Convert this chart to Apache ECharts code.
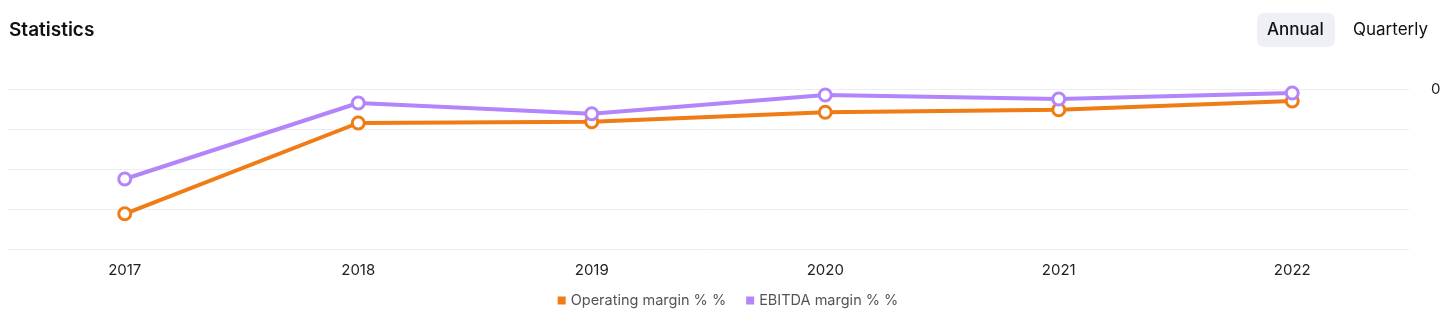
<!DOCTYPE html>
<html>
<head>
<meta charset="utf-8">
<script src="https://cdn.jsdelivr.net/npm/echarts@6/dist/echarts.min.js"></script>
<style>
  html, body { margin: 0; padding: 0; background: #fff; }
  #chart { width: 1456px; height: 326px; }
</style>
</head>
<body>
<div id="chart"></div>
<script>
// Yearly margins (%)
const years = ['2017', '2018', '2019', '2020', '2021', '2022'];
const operatingMargin = [-31.2, -8.5, -8.2, -5.8, -5.2, -3.0];
const ebitdaMargin = [-22.5, -3.5, -6.2, -1.5, -2.5, -1.0];
const yTickLabels = { 0: '0' };

const FONT = 'Inter, "Noto Sans", sans-serif';
const ORANGE = '#f07c15';
const PURPLE = '#b285fb';
const chart = echarts.init(document.getElementById('chart'));

const lineStyleFor = (color) => ({
  symbol: 'circle',
  symbolSize: 12,
  showAllSymbol: true,
  lineStyle: { width: 4, color },
  itemStyle: { color: '#ffffff', borderColor: color, borderWidth: 3 }
});

chart.setOption({
  animation: false,
  textStyle: { fontFamily: FONT },
  title: {
    text: 'Statistics',
    left: 9, top: 21, padding: 0,
    textStyle: { fontFamily: FONT, fontSize: 19, fontWeight: 600, color: '#111' }
  },
  graphic: [
    {
      type: 'rect', left: 1257, top: 13,
      shape: { width: 78, height: 34, r: 7 },
      style: { fill: '#eef0f6' }
    },
    {
      type: 'text', left: 1267, top: 21,
      style: { text: 'Annual', font: '500 17px ' + FONT, fill: '#111' }
    },
    {
      type: 'text', left: 1353, top: 21,
      style: { text: 'Quarterly', font: '400 17px ' + FONT, fill: '#111' }
    }
  ],
  legend: {
    bottom: 13,
    left: 'center',
    icon: 'rect',
    itemWidth: 8, itemHeight: 8,
    itemGap: 20,
    textStyle: { fontFamily: FONT, fontSize: 14.5, color: '#555' },
    data: [
      { name: 'Operating margin % %', itemStyle: { color: ORANGE, borderWidth: 0 } },
      { name: 'EBITDA margin % %', itemStyle: { color: PURPLE, borderWidth: 0 } }
    ]
  },
  grid: { left: 8, right: 47, top: 89, bottom: 77, containLabel: false },
  xAxis: {
    type: 'category',
    data: years,
    boundaryGap: true,
    axisLine: { show: false },
    axisTick: { show: false },
    axisLabel: { margin: 14, fontSize: 15, color: '#222', fontFamily: FONT }
  },
  yAxis: {
    type: 'value',
    position: 'right',
    min: -40, max: 0, interval: 10,
    axisLine: { show: false },
    axisTick: { show: false },
    splitLine: { lineStyle: { color: '#eeeef2', width: 1 } },
    axisLabel: {
      margin: 22,
      fontSize: 15, color: '#222', fontFamily: FONT,
      formatter: (v) => yTickLabels[v] !== undefined ? yTickLabels[v] : ''
    }
  },
  series: [
    Object.assign({
      name: 'Operating margin % %',
      type: 'line',
      data: operatingMargin,
      color: ORANGE,
      z: 2
    }, lineStyleFor(ORANGE)),
    Object.assign({
      name: 'EBITDA margin % %',
      type: 'line',
      data: ebitdaMargin,
      color: PURPLE,
      z: 3
    }, lineStyleFor(PURPLE))
  ]
});
</script>
</body>
</html>
